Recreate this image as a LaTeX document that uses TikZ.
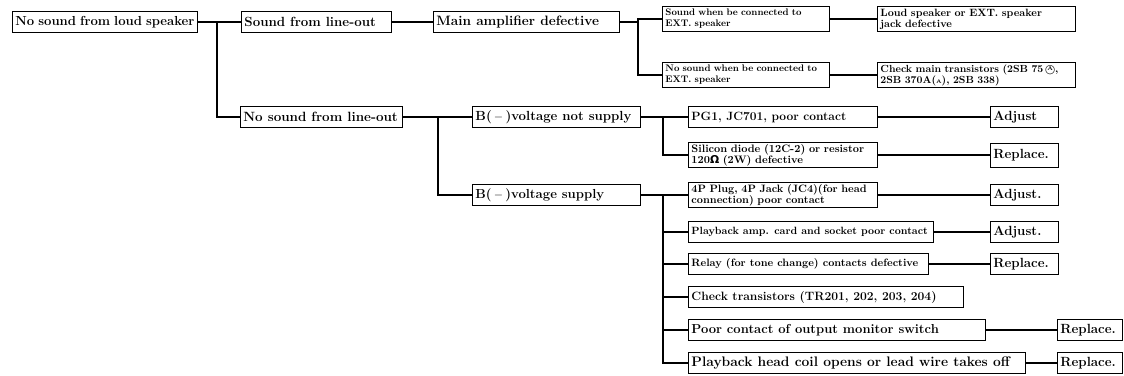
\documentclass[tikz,border=0pt]{standalone}
\usepackage{fontspec}
\newfontfamily\symfont{DejaVu Sans}
\newcommand\circA{{\ooalign{\hfil\raisebox{0.3ex}{\fontsize{5.5}{5.5}\selectfont A}\hfil\cr{\symfont\fontsize{9}{9}\selectfont\char"25EF}\cr}}}
\usetikzlibrary{positioning}
\tikzset{
  tbox/.style={draw,line width=0.9pt,anchor=west,inner xsep=3pt,inner ysep=1.5pt,minimum height=21pt},
  tbox2/.style={tbox,align=left,minimum height=25pt},
  lw/.style={execute at begin node={\hbox to #1\bgroup},execute at end node={\hfil\egroup}},
  txt/.style={font=\fontsize{#1}{11}\selectfont\bfseries},
  tlink/.style={line width=1.3pt}
}
\begin{document}
\begin{tikzpicture}[x=1pt,y=-1pt]
\useasboundingbox (0,0) rectangle (1124,375);
\node[tbox,txt=13.1,lw=179pt] (root) at (12,22) {No sound from loud speaker};
\node[tbox,txt=13.3,lw=144pt] (slo) at (241,22) {Sound from line-out};
\node[tbox,txt=13.6,lw=180pt] (main) at (433,22) {Main amplifier defective};
\node[tbox2,txt=9.5,text width=161pt] (sw) at (662,19) {Sound when be connected to\\EXT. speaker};
\node[tbox2,txt=9.5,text width=161pt] (nsw) at (662,75) {No sound when be connected to\\EXT. speaker};
\node[tbox2,txt=10.6,text width=192pt] (lsp) at (877,19) {Loud speaker or EXT. speaker\\jack defective};
\node[tbox2,txt=10.3,text width=192pt] (cmt) at (877,75) {Check main transistors (2SB 75\,\circA,\\2SB 370A({\tiny A}), 2SB 338)};
\node[tbox,txt=13.4,lw=156pt] (nslo) at (240,117) {No sound from line-out};
\node[tbox,txt=13.2,lw=162pt] (bns) at (472,117) {B(\,$-$\,)voltage not supply};
\node[tbox,txt=13.1,lw=162pt] (bs) at (472,195) {B(\,$-$\,)voltage supply};
\node[tbox,txt=12,lw=183pt] (pg1) at (688,117) {PG1, JC701, poor contact};
\node[tbox2,txt=10.8,text width=183pt] (sil) at (688,155) {Silicon diode (12C-2) or resistor\\120{\symfont Ω} (2W) defective};
\node[tbox2,txt=10.7,text width=183pt] (plug) at (688,195) {4P Plug, 4P Jack (JC4)(for head\\connection) poor contact};
\node[tbox,txt=10.5,lw=239pt] (pamp) at (688,232) {Playback amp. card and socket poor contact};
\node[tbox,txt=10.7,lw=234pt] (relay) at (688,264) {Relay (for tone change) contacts defective};
\node[tbox,txt=12.1,lw=269pt] (chk) at (688,297) {Check transistors (TR201, 202, 203, 204)};
\node[tbox,txt=13,lw=291pt] (poor) at (688,330) {Poor contact of output monitor switch};
\node[tbox,txt=13.8,lw=331pt] (head) at (688,363) {Playback head coil opens or lead wire takes off};
\node[tbox,txt=13.3,lw=62pt] (adj1) at (990,117) {Adjust};
\node[tbox,txt=13.3,lw=62pt,minimum height=24pt] (rep1) at (990,155) {Replace.};
\node[tbox,txt=13.3,lw=62pt] (adj2) at (990,195) {Adjust.};
\node[tbox,txt=13.3,lw=62pt] (adj3) at (990,232) {Adjust.};
\node[tbox,txt=13.3,lw=62pt] (rep2) at (990,264) {Replace.};
\node[tbox,txt=13.3,lw=59pt] (rep3) at (1057,330) {Replace.};
\node[tbox,txt=13.3,lw=59pt] (rep4) at (1057,363) {Replace.};
\coordinate (jA) at (217,22);
\coordinate (jC) at (438,117);
\draw[tlink] (root.east) -- (slo.west);
\draw[tlink] (jA) |- (nslo.west);
\draw[tlink] (slo.east) -- (main.west);
\draw[tlink] (main.east) -- ++(18,0) coordinate (jB);
\draw[tlink] (jB) |- (sw.west);
\draw[tlink] (jB) |- (nsw.west);
\draw[tlink] (sw.east) -- (lsp.west);
\draw[tlink] (nsw.east) -- (cmt.west);
\draw[tlink] (nslo.east) -- (bns.west);
\draw[tlink] (jC) |- (bs.west);
\draw[tlink] (bns.east) -- (pg1.west);
\draw[tlink] (bns.east) ++(22,0) coordinate (jD) |- (sil.west);
\draw[tlink] (bs.east) -- ++(22,0) coordinate (jE) |- (head.west);
\draw[tlink] (jE) -- (plug.west);
\draw[tlink] (jE) |- (pamp.west);
\draw[tlink] (jE) |- (relay.west);
\draw[tlink] (jE) |- (chk.west);
\draw[tlink] (jE) |- (poor.west);
\draw[tlink] (pg1.east) -- (adj1.west);
\draw[tlink] (sil.east) -- (rep1.west);
\draw[tlink] (plug.east) -- (adj2.west);
\draw[tlink] (pamp.east) -- (adj3.west);
\draw[tlink] (relay.east) -- (rep2.west);
\draw[tlink] (poor.east) -- (rep3.west);
\draw[tlink] (head.east) -- (rep4.west);
\end{tikzpicture}
\end{document}
